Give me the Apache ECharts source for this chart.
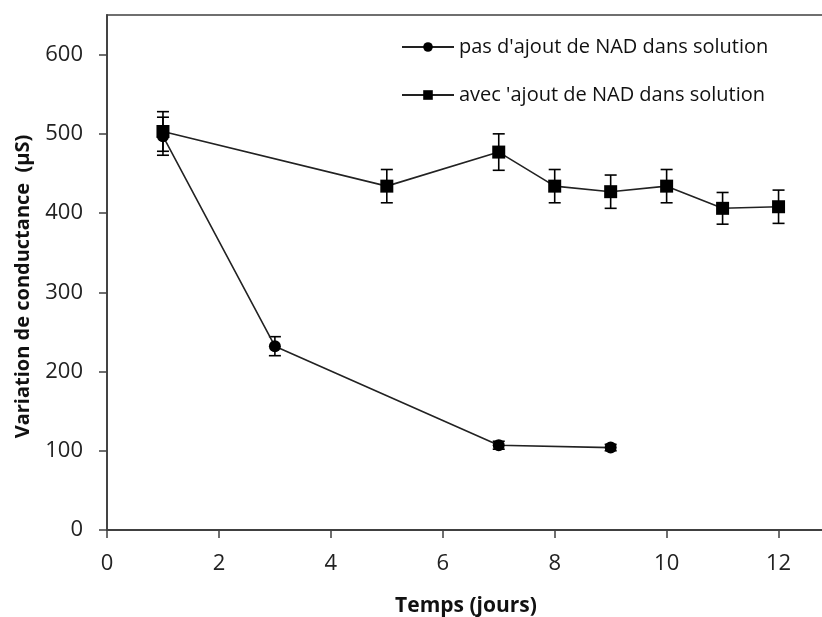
<!DOCTYPE html>
<html>
<head>
<meta charset="utf-8">
<script src="https://cdn.jsdelivr.net/npm/echarts@6/dist/echarts.min.js"></script>
<style>
  html, body { margin: 0; padding: 0; background: #fff; overflow: hidden; }
  #chart { width: 822px; height: 617px; }
</style>
</head>
<body>
<div id="chart"></div>
<script>
// pas d'ajout de NAD
var joursSans = [1, 3, 7, 9];
var sansNAD = [497, 232, 107, 104];
var errSans = [24, 12, 5, 4];

// avec ajout de NAD
var joursAvec = [1, 5, 7, 8, 9, 10, 11, 12];
var avecNAD = [503, 434, 477, 434, 427, 434, 406, 408];
var errAvec = [25, 21, 23, 21, 21, 21, 20, 21];

var xTicks = [0, 2, 4, 6, 8, 10, 12];
var yTicks = [0, 100, 200, 300, 400, 500, 600];

var axisColor = '#404040';
var font = 'Open Sans';

function pairs(xs, ys) {
  return xs.map(function (x, i) { return [x, ys[i]]; });
}

function errData(xs, ys, es) {
  return xs.map(function (x, i) { return [x, ys[i] - es[i], ys[i] + es[i]]; });
}

function renderErr(params, api) {
  var lo = api.coord([api.value(0), api.value(1)]);
  var hi = api.coord([api.value(0), api.value(2)]);
  var w = 6;
  var st = { stroke: '#000', lineWidth: 1.6 };
  return {
    type: 'group',
    children: [
      { type: 'line', shape: { x1: lo[0], y1: lo[1], x2: hi[0], y2: hi[1] }, style: st },
      { type: 'line', shape: { x1: lo[0] - w, y1: lo[1], x2: lo[0] + w, y2: lo[1] }, style: st },
      { type: 'line', shape: { x1: hi[0] - w, y1: hi[1], x2: hi[0] + w, y2: hi[1] }, style: st }
    ]
  };
}

var chart = echarts.init(document.getElementById('chart'));

chart.setOption({
  animation: false,
  backgroundColor: '#fff',
  grid: {
    left: 107, top: 15, width: 718, height: 515,
    outerBoundsMode: 'none',
    containLabel: false,
    show: true, borderColor: axisColor, borderWidth: 1.5
  },
  legend: {
    left: 396, top: 32,
    orient: 'vertical',
    itemGap: 28,
    itemWidth: 52,
    itemHeight: 12,
    data: ["pas d'ajout de NAD dans solution", "avec 'ajout de NAD dans solution"],
    textStyle: { fontFamily: font, fontSize: 20, color: '#111' }
  },
  xAxis: {
    type: 'value',
    min: 0, max: 12.83,
    name: 'Temps (jours)',
    nameLocation: 'middle',
    nameGap: 66,
    nameTextStyle: { fontFamily: font, fontSize: 21, fontWeight: 'bold', color: '#111' },
    axisLine: { lineStyle: { color: axisColor, width: 1.8 } },
    axisTick: { show: true, length: 8, customValues: xTicks, lineStyle: { color: axisColor, width: 1.5 } },
    axisLabel: { customValues: xTicks, margin: 23, fontFamily: font, fontSize: 22, color: '#222' },
    splitLine: { show: false }
  },
  yAxis: {
    type: 'value',
    min: 0, max: 650,
    name: 'Variation de conductance  (µS)',
    nameLocation: 'middle',
    nameGap: 74,
    nameTextStyle: { fontFamily: font, fontSize: 20, fontWeight: 'bold', color: '#111', padding: [0, 28, 0, 0] },
    axisLine: { lineStyle: { color: axisColor, width: 1.8 } },
    axisTick: { show: true, length: 8, customValues: yTicks, lineStyle: { color: axisColor, width: 1.5 } },
    axisLabel: { customValues: yTicks, margin: 24, fontFamily: font, fontSize: 22, color: '#222' },
    splitLine: { show: false }
  },
  series: [
    {
      type: 'custom',
      renderItem: renderErr,
      data: errData(joursSans, sansNAD, errSans),
      encode: { x: 0, y: [1, 2] },
      z: 3
    },
    {
      type: 'custom',
      renderItem: renderErr,
      data: errData(joursAvec, avecNAD, errAvec),
      encode: { x: 0, y: [1, 2] },
      z: 3
    },
    {
      name: "pas d'ajout de NAD dans solution",
      type: 'line',
      data: pairs(joursSans, sansNAD),
      symbol: 'circle',
      symbolSize: 12,
      itemStyle: { color: '#000' },
      lineStyle: { color: '#222', width: 1.6 },
      z: 4
    },
    {
      name: "avec 'ajout de NAD dans solution",
      type: 'line',
      data: pairs(joursAvec, avecNAD),
      symbol: 'rect',
      symbolSize: 13,
      itemStyle: { color: '#000' },
      lineStyle: { color: '#222', width: 1.6 },
      z: 4
    }
  ]
});
</script>
</body>
</html>
